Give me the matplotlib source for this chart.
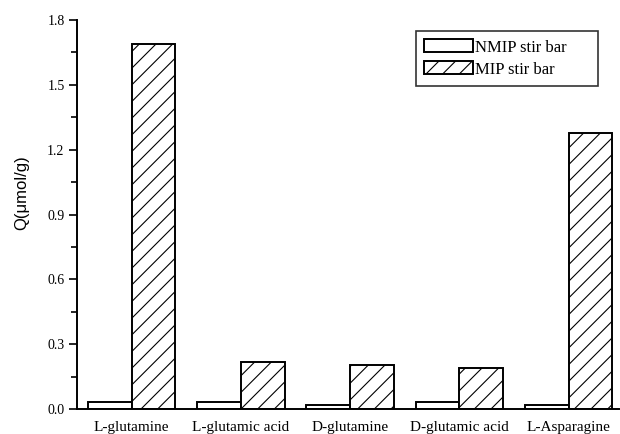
import matplotlib
matplotlib.use("Agg")
import matplotlib.pyplot as plt
import numpy as np
from matplotlib.ticker import MultipleLocator

categories = ["L-glutamine", "L-glutamic acid", "D-glutamine", "D-glutamic acid", "L-Asparagine"]
nmip = [0.034, 0.034, 0.020, 0.034, 0.020]
mip = [1.69, 0.218, 0.204, 0.190, 1.275]
series_labels = ["NMIP stir bar", "MIP stir bar"]
yticks = [0.0, 0.3, 0.6, 0.9, 1.2, 1.5, 1.8]

plt.rcParams['hatch.linewidth'] = 0.8
serif = ['Liberation Serif', 'DejaVu Serif']

fig = plt.figure(figsize=(6.2, 4.34), dpi=100)
ax = fig.add_axes([77/620, 1-409/434, 542/620, 389/434])

x = np.arange(len(categories))
w = 0.4
ax.bar(x - w, nmip, width=w, align='edge', facecolor='white', edgecolor='black', linewidth=1.4, label=series_labels[0])
ax.bar(x, mip, width=w, align='edge', facecolor='white', edgecolor='black', linewidth=1.4, hatch='//', label=series_labels[1])

ax.set_xlim(-0.5, 4.46)
ax.set_ylim(0, 1.8)
ax.set_xticks(x)
ax.set_xticklabels(categories, family=serif, fontsize=11)
ax.set_yticks(yticks)
ax.set_yticklabels([f"{v:.1f}" for v in yticks], family=serif, fontsize=10)
ax.yaxis.set_minor_locator(MultipleLocator(0.15))
ax.tick_params(axis='x', length=0, pad=9)
ax.tick_params(axis='y', which='major', direction='out', length=6, width=1.2, pad=3)
ax.tick_params(axis='y', which='minor', direction='out', length=4, width=1.2)
for s in ['top', 'right']:
    ax.spines[s].set_visible(False)
for s in ['left', 'bottom']:
    ax.spines[s].set_linewidth(1.4)

ax.set_ylabel("Q(μmol/g)", fontsize=12, family=['Liberation Sans', 'DejaVu Sans'])
ax.yaxis.set_label_coords(-(77 - 29) / 542, (409 - 193) / 389)

x0 = (416 - 77) / 542
bw = 182 / 542
ytop = (409 - 31) / 389
bh = 53 / 389
leg = ax.legend(loc='upper left', bbox_to_anchor=(x0, ytop - bh, bw, bh), bbox_transform=ax.transAxes,
                mode='expand', borderaxespad=0,
                prop={'family': serif, 'size': 12}, frameon=True, fancybox=False,
                handlelength=2.9, handleheight=0.8, handletextpad=0.15, borderpad=0.5, labelspacing=0.35)
leg.get_frame().set_edgecolor('black')
leg.get_frame().set_linewidth(1.2)

fig.savefig("out.png", dpi=100)
